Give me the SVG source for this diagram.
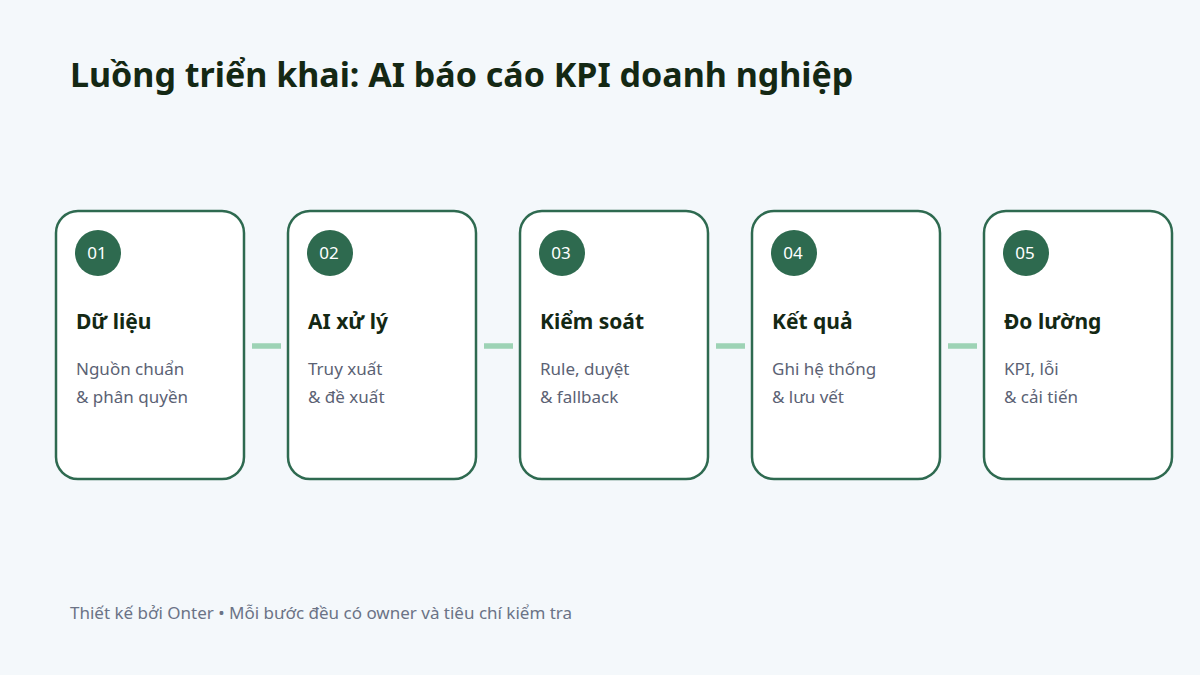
<svg xmlns="http://www.w3.org/2000/svg" width="1200" height="675" viewBox="0 0 1200 675">
<style>
.bg{fill:#f4f8fb}
.card{fill:#ffffff;stroke:#2e6a50;stroke-width:2.5}
.badge{fill:#2e6a4f}
.num{font-family:"Noto Sans","Open Sans",sans-serif;font-size:17px;fill:#ffffff}
.title{font-family:"Noto Sans","Open Sans",sans-serif;font-size:34px;font-weight:700;fill:#142814}
.head{font-family:"Noto Sans","Open Sans",sans-serif;font-size:21px;font-weight:700;fill:#142814}
.desc{font-family:"Noto Sans","Open Sans",sans-serif;font-size:17px;fill:#5b6274}
.foot{font-family:"Noto Sans","Open Sans",sans-serif;font-size:17px;fill:#6b7386}
.conn{stroke:#9dd3b5;stroke-width:5.5;fill:none}
</style>
<rect class="bg" x="0" y="0" width="1200" height="675"/>
<text class="title" x="70" y="87">Luồng triển khai: AI báo cáo KPI doanh nghiệp</text>
<g id="connectors">
<line class="conn" x1="252" y1="346" x2="281" y2="346"/>
<line class="conn" x1="484" y1="346" x2="513" y2="346"/>
<line class="conn" x1="716" y1="346" x2="745" y2="346"/>
<line class="conn" x1="948" y1="346" x2="977" y2="346"/>
</g>
<g id="step1">
<rect class="card" x="56" y="211" width="188" height="268" rx="22"/>
<circle class="badge" cx="98" cy="253" r="23"/>
<text class="num" x="97" y="259" text-anchor="middle">01</text>
<text class="head" x="76" y="329">Dữ liệu</text>
<text class="desc" x="76" y="375">Nguồn chuẩn</text>
<text class="desc" x="76" y="403">&amp; phân quyền</text>
</g>
<g id="step2">
<rect class="card" x="288" y="211" width="188" height="268" rx="22"/>
<circle class="badge" cx="330" cy="253" r="23"/>
<text class="num" x="329" y="259" text-anchor="middle">02</text>
<text class="head" x="308" y="329">AI xử lý</text>
<text class="desc" x="308" y="375">Truy xuất</text>
<text class="desc" x="308" y="403">&amp; đề xuất</text>
</g>
<g id="step3">
<rect class="card" x="520" y="211" width="188" height="268" rx="22"/>
<circle class="badge" cx="562" cy="253" r="23"/>
<text class="num" x="561" y="259" text-anchor="middle">03</text>
<text class="head" x="540" y="329">Kiểm soát</text>
<text class="desc" x="540" y="375">Rule, duyệt</text>
<text class="desc" x="540" y="403">&amp; fallback</text>
</g>
<g id="step4">
<rect class="card" x="752" y="211" width="188" height="268" rx="22"/>
<circle class="badge" cx="794" cy="253" r="23"/>
<text class="num" x="793" y="259" text-anchor="middle">04</text>
<text class="head" x="772" y="329">Kết quả</text>
<text class="desc" x="772" y="375">Ghi hệ thống</text>
<text class="desc" x="772" y="403">&amp; lưu vết</text>
</g>
<g id="step5">
<rect class="card" x="984" y="211" width="188" height="268" rx="22"/>
<circle class="badge" cx="1026" cy="253" r="23"/>
<text class="num" x="1025" y="259" text-anchor="middle">05</text>
<text class="head" x="1004" y="329">Đo lường</text>
<text class="desc" x="1004" y="375">KPI, lỗi</text>
<text class="desc" x="1004" y="403">&amp; cải tiến</text>
</g>
<text class="foot" x="70" y="619">Thiết kế bởi Onter • Mỗi bước đều có owner và tiêu chí kiểm tra</text>
</svg>
